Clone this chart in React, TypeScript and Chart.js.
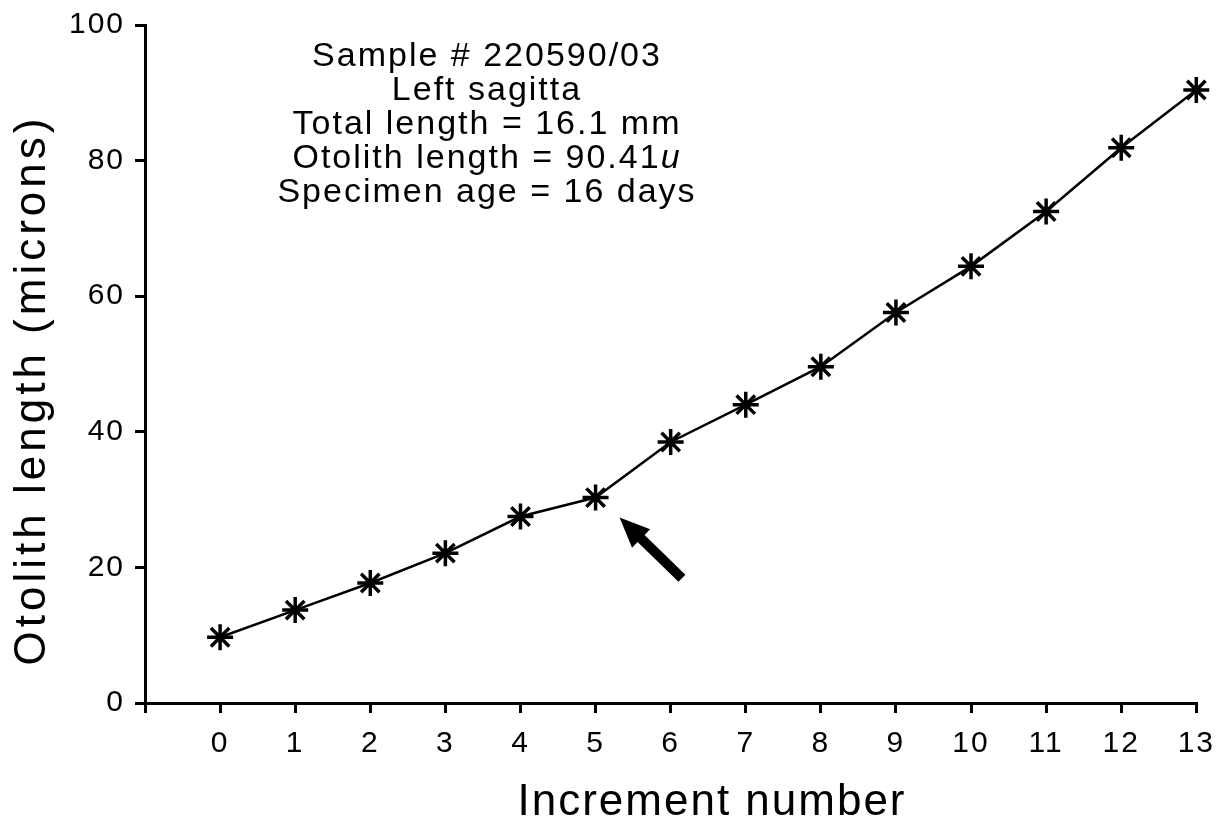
import React, { useEffect, useRef } from 'react';
import { Chart, registerables } from 'chart.js';

Chart.register(...registerables);

// ---- data ----
const increments = [0, 1, 2, 3, 4, 5, 6, 7, 8, 9, 10, 11, 12, 13];
const otolithLength = [9.7, 13.7, 17.7, 22.1, 27.5, 30.3, 38.5, 44.0, 49.6, 57.6, 64.4, 72.5, 81.9, 90.41];
const xMin = -1;
const xMax = 13;
const yMin = 0;
const yMax = 100;
const yStep = 20;
const xTitle = 'Increment number';
const yTitle = 'Otolith length (microns)';
const noteLines = ['Sample # 220590/03', 'Left sagitta', 'Total length = 16.1 mm', 'Otolith length = 90.41', 'Specimen age = 16 days'];
const noteItalicSuffix = ['', '', '', 'u', ''];
const arrowFrom = { x: 6.15, y: 18.4 };
const arrowTo = { x: 5.32, y: 27.35 };

const FONT = '"Liberation Sans", Arial, Helvetica, sans-serif';

const overlayPlugin = {
  id: 'overlay',
  beforeDraw(chart: any) {
    chart.ctx.letterSpacing = '2px';
  },
  afterDatasetsDraw(chart: any) {
    const { ctx, scales } = chart;
    const x1 = scales.x.getPixelForValue(arrowFrom.x);
    const y1 = scales.y.getPixelForValue(arrowFrom.y);
    const x2 = scales.x.getPixelForValue(arrowTo.x);
    const y2 = scales.y.getPixelForValue(arrowTo.y);
    const dx = x2 - x1;
    const dy = y2 - y1;
    const len = Math.hypot(dx, dy);
    const ux = dx / len;
    const uy = dy / len;
    const nx = -uy;
    const ny = ux;
    const headLen = 30;
    const headHalf = 13;
    const shaftHalf = 5;
    const bx = x2 - ux * headLen;
    const by = y2 - uy * headLen;
    ctx.save();
    ctx.fillStyle = '#000';
    ctx.beginPath();
    ctx.moveTo(x1 + nx * shaftHalf, y1 + ny * shaftHalf);
    ctx.lineTo(bx + nx * shaftHalf, by + ny * shaftHalf);
    ctx.lineTo(bx + nx * headHalf, by + ny * headHalf);
    ctx.lineTo(x2, y2);
    ctx.lineTo(bx - nx * headHalf, by - ny * headHalf);
    ctx.lineTo(bx - nx * shaftHalf, by - ny * shaftHalf);
    ctx.lineTo(x1 - nx * shaftHalf, y1 - ny * shaftHalf);
    ctx.closePath();
    ctx.fill();
    ctx.restore();
  },
  afterDraw(chart: any) {
    const ctx = chart.ctx;
    ctx.save();
    ctx.fillStyle = '#000';
    // x title
    ctx.letterSpacing = '2px';
    ctx.font = `44px ${FONT}`;
    ctx.textAlign = 'center';
    ctx.textBaseline = 'alphabetic';
    ctx.fillText(xTitle, 712, 815);
    // y title
    ctx.save();
    ctx.letterSpacing = '4px';
    ctx.translate(45, 390);
    ctx.rotate(-Math.PI / 2);
    ctx.fillText(yTitle, 0, 0);
    ctx.restore();
    // note block
    ctx.letterSpacing = '2px';
    const cx = 487;
    const baseline0 = 66;
    const gap = 34;
    noteLines.forEach((line, i) => {
      const y = baseline0 + i * gap;
      ctx.font = `34px ${FONT}`;
      const w1 = ctx.measureText(line).width;
      let w2 = 0;
      const suffix = noteItalicSuffix[i];
      if (suffix) {
        ctx.font = `italic 34px ${FONT}`;
        w2 = ctx.measureText(suffix).width;
      }
      const start = cx - (w1 + w2) / 2;
      ctx.textAlign = 'left';
      ctx.font = `34px ${FONT}`;
      ctx.fillText(line, start, y);
      if (suffix) {
        ctx.font = `italic 34px ${FONT}`;
        ctx.fillText(suffix, start + w1, y);
      }
    });
    ctx.restore();
  },
};

export default function App() {
  const canvasRef = useRef<HTMLCanvasElement | null>(null);

  useEffect(() => {
    if (!canvasRef.current) return;
    const points = increments.map((x, i) => ({ x, y: otolithLength[i] }));
    const chart = new Chart(canvasRef.current, {
      type: 'line',
      data: {
        datasets: [
          {
            data: points,
            borderColor: '#000',
            borderWidth: 2.5,
            pointStyle: 'star',
            pointRadius: 13,
            pointBorderWidth: 3.5,
            pointBorderColor: '#000',
            pointBackgroundColor: '#000',
            tension: 0,
            fill: false,
            clip: false,
          },
        ],
      },
      options: {
        animation: false,
        responsive: true,
        maintainAspectRatio: false,
        layout: { padding: { top: 21, right: 22, left: 0, bottom: 0 } },
        plugins: {
          legend: { display: false },
          tooltip: { enabled: false },
          title: { display: false },
        },
        scales: {
          x: {
            type: 'linear',
            min: xMin,
            max: xMax,
            afterFit: (scale: any) => {
              scale.height = 118;
            },
            ticks: {
              stepSize: 1,
              color: '#000',
              padding: 16,
              font: { family: FONT, size: 30, lineHeight: 1 },
              callback: (v: any) => (Number(v) === xMin ? '' : String(v)),
              maxRotation: 0,
              autoSkip: false,
            },
            grid: {
              display: true,
              drawOnChartArea: false,
              drawTicks: true,
              tickLength: 10,
              color: '#000',
              lineWidth: 3,
            },
            border: { display: true, color: '#000', width: 3 },
          },
          y: {
            type: 'linear',
            min: yMin,
            max: yMax,
            afterFit: (scale: any) => {
              scale.width = 145;
            },
            ticks: {
              stepSize: yStep,
              color: '#000',
              padding: 10,
              font: { family: FONT, size: 30, lineHeight: 1 },
            },
            grid: {
              display: true,
              drawOnChartArea: false,
              drawTicks: true,
              tickLength: 10,
              color: '#000',
              lineWidth: 3,
            },
            border: { display: true, color: '#000', width: 3 },
          },
        },
      },
      plugins: [overlayPlugin],
    });
    return () => chart.destroy();
  }, []);

  return (
    <div style={{ position: 'fixed', left: 0, top: 0, width: 1229, height: 821, background: '#fff' }}>
      <canvas ref={canvasRef} />
    </div>
  );
}
